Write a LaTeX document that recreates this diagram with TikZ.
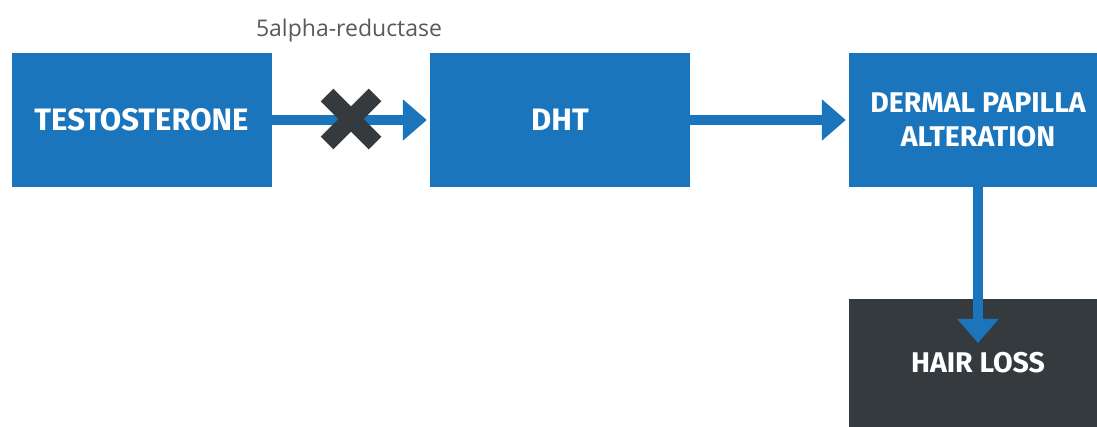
\documentclass[tikz,border=0pt]{standalone}
\usepackage{fontspec}
\setmainfont{Fira Sans}
\newfontfamily\labelfont{Open Sans}
\usetikzlibrary{arrows.meta}
\definecolor{boxblue}{HTML}{1A75BC}
\definecolor{boxdark}{HTML}{343A3D}
\definecolor{labelgray}{HTML}{58595B}
\tikzset{
  stepbox/.style={fill=boxblue, text=white, minimum width=260pt, minimum height=134pt,
    inner sep=0pt, align=center, font=\bfseries\fontsize{31}{34}\selectfont},
  smallbox/.style={stepbox, minimum width=258pt, font=\bfseries\fontsize{28.5}{34}\selectfont},
  flow/.style={draw=boxblue, line width=10pt, -{Triangle[length=24pt,width=40pt]}, shorten >=3pt},
  blocked/.style={draw=boxdark, line width=18pt, line cap=butt}
}
\begin{document}
\begin{tikzpicture}[x=1pt,y=1pt]
  \useasboundingbox (0,0) rectangle (1097,-427);
  \node[stepbox] (T) at (141.5,-120) {TESTOSTERONE};
  \node[stepbox] (H) at (560,-120) {DHT};
  \node[smallbox] (D) at (978,-120) {DERMAL PAPILLA\\ALTERATION};
  \node[smallbox, fill=boxdark, minimum height=128pt] (L) at (978,-363) {HAIR LOSS};
  \node[anchor=base, text=labelgray, font=\labelfont\fontsize{23}{27}\selectfont] (E) at (349,-37) {5alpha-reductase};
  \coordinate (tip) at (978,-343);
  \draw[flow] (T) -- (H);
  \draw[flow] (H) -- (D);
  \draw[flow, shorten >=0pt] (D.south) -- (tip);
  % enzyme blocked
  \draw[blocked] (327,-95) -- (375,-143);
  \draw[blocked] (327,-143) -- (375,-95);
\end{tikzpicture}
\end{document}
